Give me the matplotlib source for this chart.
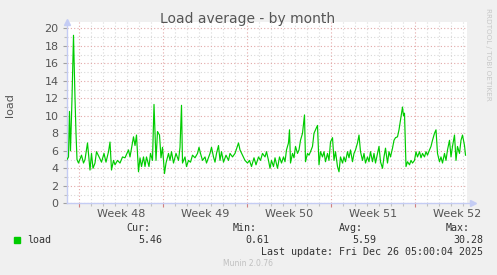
import matplotlib
matplotlib.use("Agg")
import matplotlib.pyplot as plt

# ---- data (hours since Sun Nov 23 2025 00:00) ----
hours = [0, 3, 5, 7, 10, 13, 16, 18, 20, 23, 29, 33, 36, 41, 43, 46, 49, 52, 56, 59,
         65, 69, 74, 78, 83, 86, 89, 93, 96, 101, 106, 111, 116, 123, 126, 129, 133, 136, 139, 143,
         146, 149, 153, 156, 159, 164, 167, 171, 174, 178, 181, 185, 188, 191, 195, 198, 203, 206, 209, 213,
         218, 223, 226, 229, 231, 236, 239, 243, 247, 251, 256, 261, 264, 267, 271, 276, 279, 286, 289, 293,
         296, 299, 303, 306, 309, 313, 318, 323, 326, 331, 336, 343, 346, 351, 356, 361, 365,
         369, 374, 378, 383, 387, 391, 396, 399, 403, 406, 409, 413, 416, 421, 425, 429, 433, 436, 439,
         443, 445, 447, 451, 454, 457, 461, 464, 467, 471, 475, 477, 481, 484, 487, 491, 494, 497, 501, 504,
         507, 511, 514, 517, 521, 524, 527, 531, 534, 537, 541, 544, 547, 551, 554, 557, 561, 564, 567, 571,
         574, 577, 581, 584, 587, 591, 594, 597, 601, 604, 607, 611, 614, 617, 621, 624, 627, 631, 634, 637,
         641, 644, 647, 651, 654, 657, 661, 664, 667, 671, 673, 675, 678, 681, 685, 688, 691, 695, 698, 701,
         705, 708, 711, 715, 718, 721, 725, 728, 731, 735, 738, 741, 745, 748, 751, 755, 758, 761, 765, 768,
         771, 775, 778, 781, 785, 788, 791, 795, 797]
load = [5.0, 5.3, 10.5, 6.0, 12.0, 19.2, 12.0, 8.0, 5.0, 4.6, 5.5, 4.6, 5.0, 6.9, 5.7, 3.8, 5.7, 4.0, 4.6, 5.9,
        5.2, 4.7, 5.7, 4.7, 5.9, 7.0, 3.8, 4.9, 4.4, 4.9, 4.6, 5.3, 5.2, 6.1, 5.3, 6.3, 7.6, 6.6, 7.8, 3.6,
        5.2, 4.2, 5.3, 4.2, 5.3, 4.2, 5.7, 4.9, 11.3, 4.9, 8.2, 7.8, 5.2, 6.4, 3.4, 4.6, 5.7, 4.9, 5.9, 4.6,
        5.7, 4.9, 6.4, 11.2, 4.6, 5.3, 4.2, 4.9, 4.7, 5.5, 5.2, 5.7, 6.4, 5.7, 4.9, 5.3, 4.6, 5.7, 6.4, 5.3,
        4.7, 5.7, 6.6, 4.9, 5.9, 4.7, 5.5, 4.9, 5.7, 5.3, 5.7, 6.9, 6.1, 5.5, 4.9, 4.6, 4.9,
        4.2, 5.2, 4.4, 5.3, 4.9, 5.7, 5.3, 5.9, 4.9, 4.0, 4.9, 4.2, 5.2, 4.0, 5.3, 4.6, 5.3, 4.75, 6.1,
        6.9, 8.4, 4.6, 5.7, 5.2, 6.5, 5.7, 6.1, 7.2, 8.0, 10.1, 4.75, 5.7, 5.5, 5.9, 6.5, 8.0, 8.4, 8.9, 4.4,
        5.9, 5.3, 5.9, 4.75, 5.7, 4.9, 7.0, 7.5, 4.9, 5.9, 4.2, 3.6, 5.3, 4.6, 5.3, 4.75, 5.9, 5.2, 6.1, 4.75,
        5.7, 6.1, 6.9, 7.8, 5.9, 4.9, 5.7, 4.6, 5.3, 4.75, 5.9, 4.75, 5.7, 4.6, 5.7, 6.5, 4.75, 4.0, 5.3, 6.3,
        4.6, 5.9, 5.3, 6.3, 7.2, 7.5, 7.6, 8.4, 9.5, 11.0, 10.0, 10.3, 4.2, 4.75, 4.4, 4.9, 4.6, 4.9, 5.9, 5.3,
        5.9, 5.2, 5.7, 5.3, 5.9, 5.5, 6.1, 6.5, 7.2, 8.0, 8.4, 5.7, 4.75, 5.3, 4.6, 5.7, 4.9, 6.1, 7.2, 5.3,
        6.5, 7.8, 4.9, 6.5, 5.7, 7.2, 7.8, 6.6, 5.5]

week_labels = ["Week 48", "Week 49", "Week 50", "Week 51", "Week 52"]
week_starts = [24, 192, 360, 528, 696]          # Monday 00:00 of each week (hours)
span_hours = 800

legend_name = "load"
stat_names = ["Cur:", "Min:", "Avg:", "Max:"]
stat_values = ["5.46", "0.61", "5.59", "30.28"]
last_update = "Last update: Fri Dec 26 05:00:04 2025"

# ---- style ----
W, H = 497, 275
BG = "#F0F0F0"
GREEN = "#00CC00"
AXIS = "#C4CCF4"
MAJ = "#E3A8A8"
MIN = "#D8D8D8"
TXT = "#555555"

fig = plt.figure(figsize=(W / 100, H / 100), dpi=100, facecolor=BG)

def px(x, y):
    return x / W, 1 - y / H

left, right, top, bottom = 67, 467, 22.3, 203.3
ax = fig.add_axes([left / W, 1 - bottom / H, (right - left) / W, (bottom - top) / H])
ax.set_facecolor("white")
ymax = 20
ax.set_xlim(0, span_hours)
ax.set_ylim(0, ymax * (bottom - top) / 175.0)

for s in ax.spines.values():
    s.set_visible(False)

# grid
ax.set_yticks(range(0, ymax + 1, 2))
ax.set_yticks(range(1, ymax, 2), minor=True)
ax.set_xticks(week_starts)
ax.set_xticklabels([""] * len(week_starts))
ax.set_xticks([h for h in range(0, span_hours, 24) if h not in week_starts and h > 0], minor=True)
ax.grid(which="major", color=MAJ, linestyle=(0, (1, 2)), linewidth=0.8)
ax.grid(which="minor", color=MIN, linestyle=(0, (1, 2)), linewidth=0.8)
ax.set_axisbelow(True)
ax.tick_params(axis="y", which="major", length=3, width=0.8, color="#A0A0A0",
               labelsize=8, labelcolor=TXT, pad=3)
ax.tick_params(axis="y", which="minor", length=2, width=0.8, color="#C0C0C0")
ax.tick_params(axis="x", which="major", length=3, width=0.8, color="#D08080")
ax.tick_params(axis="x", which="minor", length=2, width=0.8, color="#C0C0C0")

# week labels in the middle of each week
sec = ax.secondary_xaxis("bottom")
sec.set_xticks([w + 84 for w in week_starts])
sec.set_xticklabels(week_labels)
sec.tick_params(length=0, labelsize=8, labelcolor=TXT, pad=4)
for s in sec.spines.values():
    s.set_visible(False)

# axes lines with arrows
ax.plot([0, 1.015], [0, 0], transform=ax.transAxes, color=AXIS, lw=1, clip_on=False, zorder=3)
ax.plot([0, 0], [0, 1.0], transform=ax.transAxes, color=AXIS, lw=1, clip_on=False, zorder=3)
ax.plot([1.015], [0], marker=">", ms=4, color=AXIS, transform=ax.transAxes, clip_on=False, zorder=3)
ax.plot([0], [1.0], marker="^", ms=4, color=AXIS, transform=ax.transAxes, clip_on=False, zorder=3)

# data
ax.plot(hours, load, color=GREEN, lw=0.85, zorder=4)

ax.set_ylabel("load", fontsize=8, color=TXT)
ax.yaxis.set_label_coords(-(left - 15) / (right - left), (bottom - 105) / (bottom - top))

# title and side text
fig.text(*px(248, 19), "Load average - by month", ha="center", va="center",
         fontsize=10, color=TXT)
fig.text(*px(488, 54), "RRDTOOL / TOBI OETIKER", ha="center", va="center",
         rotation=270, fontsize=5.2, color="#C8C8C8")

# legend / stats
mono = "DejaVu Sans Mono"
fs = 7.2
fig.patches.append(plt.Rectangle(px(14, 243), 6 / W, 6 / H, transform=fig.transFigure,
                                 color=GREEN, figure=fig))
fig.text(*px(27, 240), legend_name, ha="left", va="center", family=mono, fontsize=fs, color="#333333")
head_x = [150, 257, 363, 470]
val_x = [162, 269, 376, 483]
for name, hx in zip(stat_names, head_x):
    fig.text(*px(hx, 228), name, ha="right", va="center", family=mono, fontsize=fs, color="#333333")
for v, vx in zip(stat_values, val_x):
    fig.text(*px(vx, 240), v, ha="right", va="center", family=mono, fontsize=fs, color="#333333")
fig.text(*px(483, 252), last_update, ha="right", va="center", family=mono, fontsize=fs, color="#333333")
fig.text(*px(248, 264), "Munin 2.0.76", ha="center", va="center", fontsize=5.5, color="#C0C0C0")

fig.savefig("out.png", dpi=100, facecolor=BG)
